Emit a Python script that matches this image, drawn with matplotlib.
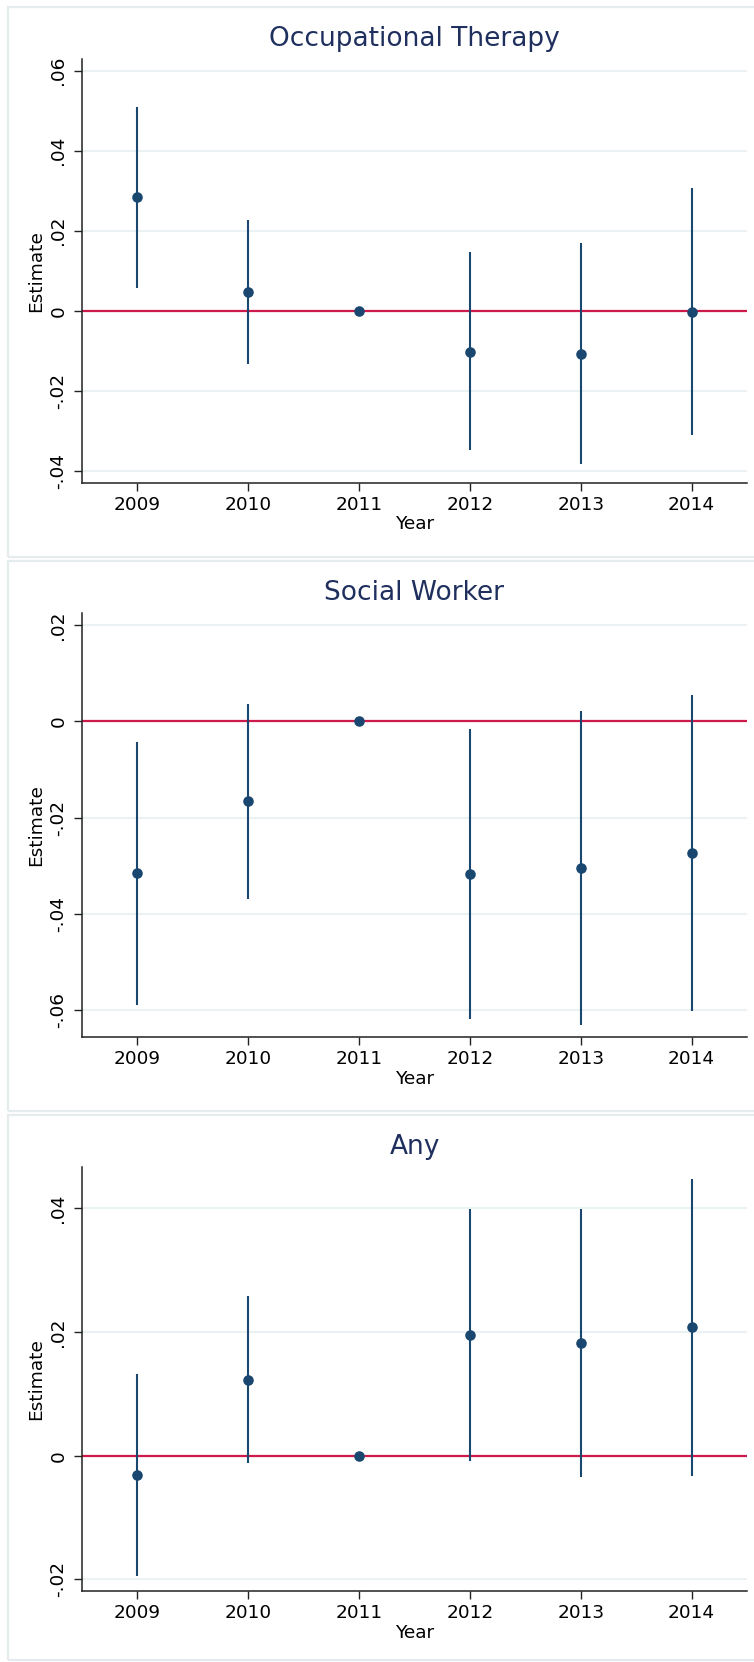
import matplotlib
matplotlib.use("Agg")
import matplotlib.pyplot as plt
from matplotlib.patches import Rectangle

# ── data ──────────────────────────────────────────────────────────────────────
years = [2009, 2010, 2011, 2012, 2013, 2014]

ot_est = [0.0284, 0.0047, 0.0, -0.0102, -0.0107, -0.0002]
ot_lo = [0.0058, -0.0134, 0.0, -0.0349, -0.0384, -0.0310]
ot_hi = [0.0510, 0.0228, 0.0, 0.0146, 0.0170, 0.0306]

sw_est = [-0.0316, -0.0166, 0.0, -0.0317, -0.0304, -0.0273]
sw_lo = [-0.0589, -0.0369, 0.0, -0.0618, -0.0632, -0.0602]
sw_hi = [-0.0043, 0.0036, 0.0, -0.0016, 0.0022, 0.0054]

any_est = [-0.0031, 0.0123, 0.0, 0.0195, 0.0183, 0.0208]
any_lo = [-0.0194, -0.0012, 0.0, -0.0009, -0.0034, -0.0033]
any_hi = [0.0132, 0.0258, 0.0, 0.0399, 0.0399, 0.0447]

titles = ["Occupational Therapy", "Social Worker", "Any"]
yticks = [
    [0.06, 0.04, 0.02, 0.0, -0.02, -0.04],
    [0.02, 0.0, -0.02, -0.04, -0.06],
    [0.04, 0.02, 0.0, -0.02],
]
ylims = [(-0.0430, 0.0630), (-0.0656, 0.0225), (-0.0219, 0.0467)]

# ── style ─────────────────────────────────────────────────────────────────────
NAVY = "#1a476f"
TITLE = "#1f2f5e"
RED = "#cc1a4a"
GRID = "#eaf2f3"
FRAME = "#e4eced"

W, H = 754, 1662
plt.rcParams["font.family"] = ["DejaVu Sans"]


def fmt(v):
    if v == 0:
        return "0"
    s = f"{v:.2f}"
    return s.replace("0.", ".", 1)


fig = plt.figure(figsize=(W / 100, H / 100), dpi=100)
fig.patch.set_facecolor("white")

panel_tops = [6.7, 561, 1115]
panel_h = 550
ax_left, ax_right = 82, 747

series = [(ot_est, ot_lo, ot_hi), (sw_est, sw_lo, sw_hi), (any_est, any_lo, any_hi)]

for k, top in enumerate(panel_tops):
    # panel frame (right edge runs off the image, as in the reference)
    bot = min(top + panel_h, H - 2)
    fig.patches.append(Rectangle(
        (8 / W, 1 - bot / H), (W + 20 - 8) / W, (bot - top) / H,
        transform=fig.transFigure, facecolor="none", edgecolor=FRAME,
        linewidth=1.6, zorder=0))

    a_top, a_bot = top + 52, top + 476
    ax = fig.add_axes([ax_left / W, 1 - a_bot / H,
                       (ax_right - ax_left) / W, (a_bot - a_top) / H])
    ax.set_facecolor("none")
    est, lo, hi = series[k]

    ax.set_xlim(2008.5, 2014.5)
    ax.set_ylim(*ylims[k])
    ax.set_yticks(yticks[k])
    ax.set_yticklabels([fmt(v) for v in yticks[k]], rotation=90, va="center")
    ax.set_xticks(years)
    ax.set_xticklabels([str(y) for y in years])

    for t in yticks[k]:
        ax.axhline(t, color=GRID, linewidth=1.5, zorder=1)
    ax.axhline(0, color=RED, linewidth=1.6, zorder=2)

    ax.vlines(years, lo, hi, color=NAVY, linewidth=1.5, zorder=3)
    ax.plot(years, est, "o", color=NAVY, markersize=7.6, zorder=4,
            markeredgewidth=0)

    for side in ("top", "right"):
        ax.spines[side].set_visible(False)
    for side in ("left", "bottom"):
        ax.spines[side].set_color("#222222")
        ax.spines[side].set_linewidth(1.1)
    ax.tick_params(axis="both", labelsize=13.3, length=5.5, width=1.0,
                   color="#222222", pad=4)
    ax.tick_params(axis="y", pad=5)

    ax.set_ylabel("Estimate", fontsize=13.3, labelpad=3)
    ax.yaxis.set_label_coords((45 - ax_left) / (ax_right - ax_left), 0.5)
    ax.set_xlabel("Year", fontsize=13.3, labelpad=1)

    fig.text((ax_left + ax_right) / 2 / W, 1 - (top + 32) / H, titles[k],
             ha="center", va="center", fontsize=19, color=TITLE)

fig.savefig("out.png", dpi=100, facecolor="white")
